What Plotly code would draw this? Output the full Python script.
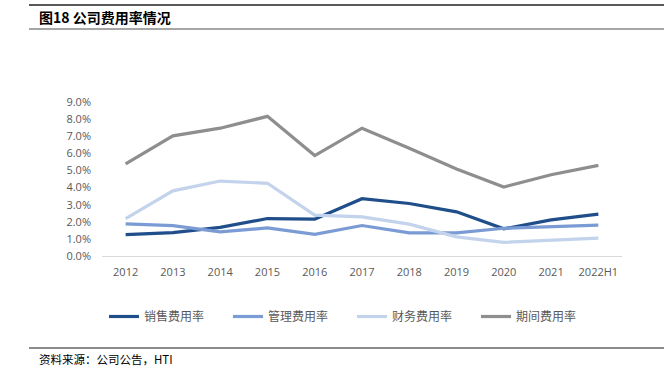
import plotly.graph_objects as go

categories = ["2012", "2013", "2014", "2015", "2016", "2017", "2018", "2019", "2020", "2021", "2022H1"]
sales_rate = [1.25, 1.37, 1.67, 2.19, 2.15, 3.35, 3.07, 2.58, 1.59, 2.11, 2.45]
admin_rate = [1.88, 1.78, 1.41, 1.64, 1.27, 1.78, 1.35, 1.35, 1.62, 1.70, 1.80]
fin_rate = [2.19, 3.81, 4.38, 4.25, 2.39, 2.29, 1.86, 1.12, 0.80, 0.92, 1.04]
period_rate = [5.38, 7.02, 7.47, 8.16, 5.87, 7.47, 6.30, 5.09, 4.03, 4.75, 5.30]
y_ticks = [0, 1, 2, 3, 4, 5, 6, 7, 8, 9]

series_names = ["销售费用率", "管理费用率", "财务费用率", "期间费用率"]
series_values = [sales_rate, admin_rate, fin_rate, period_rate]
colors = ["#1F4E8A", "#7B9BD5", "#C3D3EC", "#8E8E8E"]

W, H = 669, 383
L, R, T, B = 102, 47, 102, 127
PW, PH = W - L - R, H - T - B

def px_x(px):
    return (px - L) / PW

def px_y(py):
    return (H - B - py) / PH

fig = go.Figure()
for name, vals, col in zip(series_names, series_values, colors):
    fig.add_trace(go.Scatter(
        x=categories, y=vals, name=name, mode="lines",
        line=dict(color=col, width=3.2),
    ))

cjk = "Noto Sans CJK SC"
tickfont = dict(family="Open Sans", size=11, color="#595959")
fig.update_layout(
    width=W, height=H,
    margin=dict(l=L, r=R, t=T, b=B),
    paper_bgcolor="white", plot_bgcolor="white",
    showlegend=True,
    legend=dict(
        orientation="h", x=px_x(104), y=px_y(302), xanchor="left", yanchor="top",
        font=dict(family=cjk, size=12, color="#595959"),
        entrywidth=79, entrywidthmode="pixels",
        itemwidth=30, tracegroupgap=0,
        bgcolor="rgba(0,0,0,0)",
    ),
    xaxis=dict(
        type="category", range=[-0.5, 10.5], showgrid=False,
        showline=True, linecolor="#D9D9D9", linewidth=1,
        ticks="", tickfont=tickfont, ticklabelstandoff=6,
        fixedrange=True,
    ),
    yaxis=dict(
        range=[0, 9], tickvals=y_ticks, ticktext=[f"{v:.1f}%" for v in y_ticks],
        showgrid=False, zeroline=False, showline=False, ticks="",
        tickfont=tickfont, ticklabelstandoff=10,
        fixedrange=True,
    ),
)

# header / footer rules
fig.add_shape(type="line", xref="paper", yref="paper", x0=px_x(29), x1=px_x(664), y0=px_y(5), y1=px_y(5),
              line=dict(color="#595959", width=2))
fig.add_shape(type="line", xref="paper", yref="paper", x0=px_x(29), x1=px_x(664), y0=px_y(29), y1=px_y(29),
              line=dict(color="#A6A6A6", width=2))
fig.add_shape(type="line", xref="paper", yref="paper", x0=px_x(29), x1=px_x(664), y0=px_y(348), y1=px_y(348),
              line=dict(color="#8C8C8C", width=2))

fig.add_annotation(text="<b>图18 公司费用率情况</b>", xref="paper", yref="paper",
                   x=px_x(37), y=px_y(17), xanchor="left", yanchor="middle", showarrow=False,
                   font=dict(family=cjk, size=14, color="#000000"))
fig.add_annotation(text="资料来源：公司公告，HTI", xref="paper", yref="paper",
                   x=px_x(37), y=px_y(359), xanchor="left", yanchor="middle", showarrow=False,
                   font=dict(family=cjk, size=11.5, color="#000000"))

fig.write_html("out.html", config={"displayModeBar": False},
               post_script="document.body.style.margin='0';document.body.style.overflow='hidden';")
